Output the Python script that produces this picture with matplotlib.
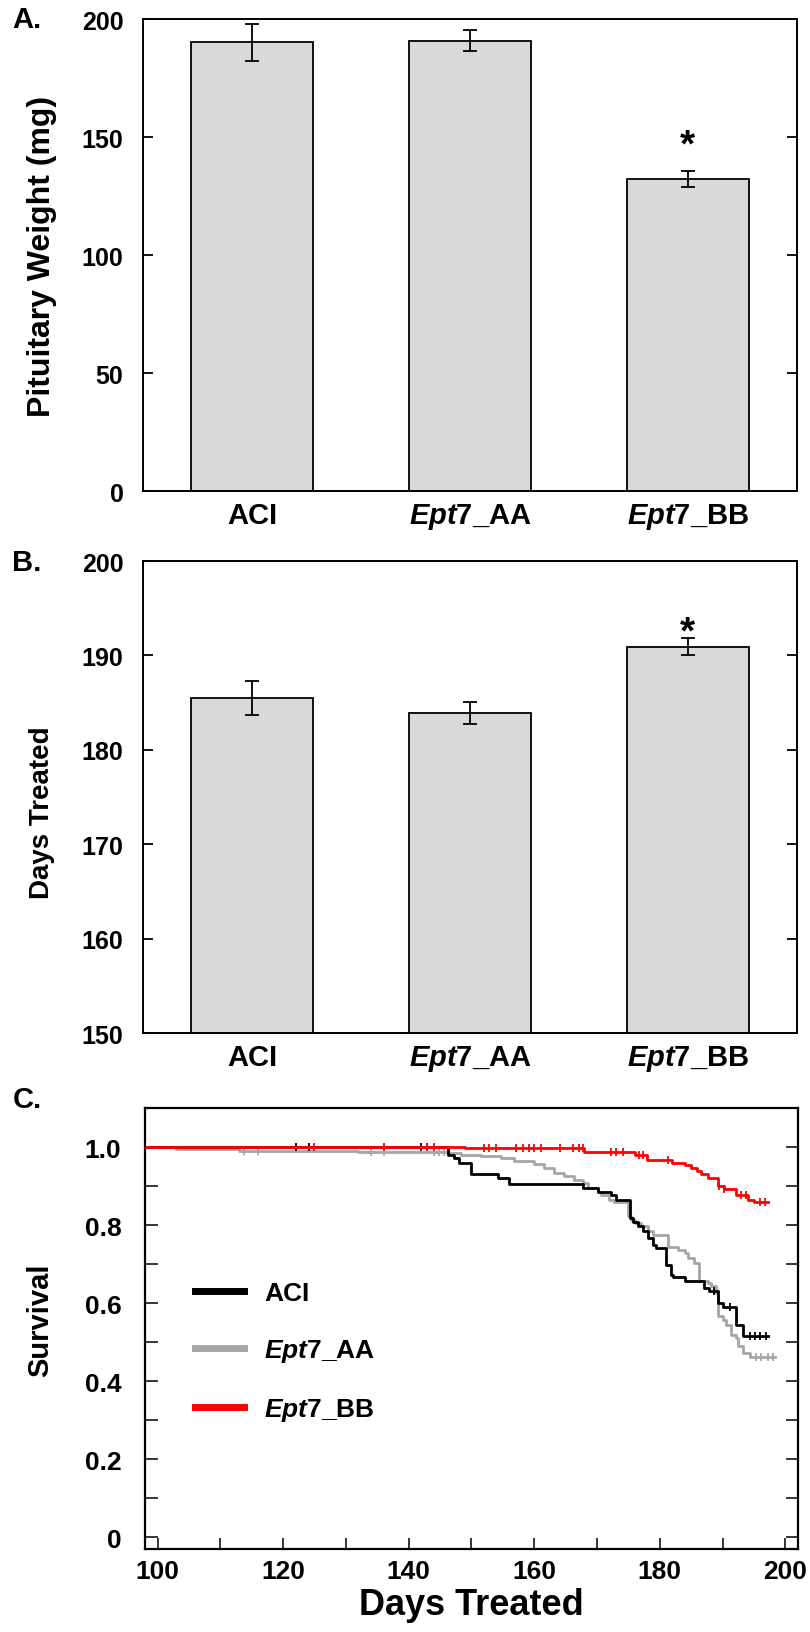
import numpy as np
import matplotlib
matplotlib.use('Agg')
import matplotlib.pyplot as plt
from matplotlib.lines import Line2D
from matplotlib.ticker import MultipleLocator, FuncFormatter

plt.rcParams['font.family'] = ['Liberation Sans', 'DejaVu Sans']
plt.rcParams['font.weight'] = 'bold'
plt.rcParams['axes.labelweight'] = 'bold'
plt.rcParams['mathtext.fontset'] = 'custom'
plt.rcParams['mathtext.it'] = 'Liberation Sans:italic:bold'
plt.rcParams['mathtext.rm'] = 'Liberation Sans:bold'

# ---- data ----
groups = ['ACI', r'$\mathit{Ept7}$_AA', r'$\mathit{Ept7}$_BB']

pit_weight = [190.1, 190.8, 132.2]
pit_err = [8.0, 4.4, 3.4]

days_mean = [185.5, 183.9, 190.9]
days_err = [1.8, 1.2, 0.9]

# Kaplan-Meier steps (time, survival after time)
aci_t = [98, 146.3, 147.3, 148.0, 150.0, 154.2, 156.0, 167.7, 170.1, 172.2, 173.0,
         175.2, 175.7, 176.5, 177.3, 178.1, 178.9, 179.4, 181.0, 181.8, 182.1, 184.0,
         187.1, 187.9, 189.3, 190.1, 192.2, 193.3, 197.3]
aci_s = [1.0, 0.98, 0.972, 0.959, 0.931, 0.921, 0.905, 0.895, 0.886, 0.878, 0.865,
         0.818, 0.809, 0.797, 0.784, 0.767, 0.749, 0.741, 0.698, 0.673, 0.668, 0.657,
         0.638, 0.630, 0.600, 0.589, 0.544, 0.515, 0.515]
aci_cens = [122.0, 124.1, 141.9, 143.0, 188.7, 191.2, 194.3, 195.2, 196.0, 197.0]

aa_t = [98, 103.0, 113.0, 132.0, 146.5, 148.3, 151.5, 154.7, 156.8, 160.0, 161.6,
        163.2, 164.8, 166.4, 167.8, 168.6, 170.2, 170.7, 171.9, 172.7, 175.0, 175.5,
        176.0, 177.0, 178.1, 178.9, 181.3, 182.9, 184.0, 184.5, 185.5, 186.3, 187.7,
        188.2, 189.0, 189.3, 190.1, 190.6, 191.4, 192.2, 192.5, 193.3, 194.3, 198.3]
aa_s = [1.0, 0.995, 0.99, 0.987, 0.985, 0.98, 0.976, 0.972, 0.963, 0.957, 0.946,
        0.933, 0.925, 0.916, 0.908, 0.895, 0.886, 0.878, 0.865, 0.859, 0.823, 0.814,
        0.805, 0.797, 0.786, 0.774, 0.745, 0.737, 0.728, 0.715, 0.703, 0.656, 0.651,
        0.643, 0.626, 0.566, 0.557, 0.544, 0.519, 0.510, 0.489, 0.472, 0.463, 0.463]
aa_cens = [113.7, 116.0, 134.0, 136.0, 144.0, 144.8, 145.6, 195.4, 196.2, 197.2, 198.0]

bb_t = [98, 149.0, 168.0, 176.0, 178.0, 182.0, 184.0, 185.0, 186.0, 186.6, 187.7,
        189.3, 190.3, 192.2, 194.0, 195.0, 197.3]
bb_s = [1.0, 0.997, 0.987, 0.98, 0.967, 0.96, 0.953, 0.946, 0.938, 0.93, 0.92,
        0.90, 0.893, 0.877, 0.865, 0.858, 0.858]
bb_cens = [124.9, 136.0, 143.0, 144.0, 152.0, 152.8, 153.9, 157.1, 158.2, 159.2, 160.0,
           161.1, 164.1, 166.2, 167.1, 167.8, 172.2, 173.0, 174.2, 176.7, 177.4, 181.3,
           189.5, 190.3, 193.0, 193.8, 195.9, 196.7]

fig = plt.figure(figsize=(8.1, 16.33), dpi=100)

bar_kw = dict(width=0.56, color='#d9d9d9', edgecolor='black', linewidth=1.3,
              error_kw=dict(elinewidth=1.3, capthick=1.3, capsize=5, ecolor='black'))


def style_bar_axes(ax):
    for sp in ax.spines.values():
        sp.set_linewidth(1.4)
    ax.tick_params(axis='y', direction='in', length=7, width=1.3, left=True, right=True,
                   labelsize=18, pad=14)
    ax.tick_params(axis='x', length=0, labelsize=21, pad=7)
    ax.set_xlim(-0.5, 2.5)


# ---- A ----
axA = fig.add_axes([0.1765, 0.6987, 0.8074, 0.2890])
x = np.arange(len(groups))
axA.bar(x, pit_weight, yerr=pit_err, **bar_kw)
axA.set_ylim(0, 200)
axA.set_yticks([0, 50, 100, 150, 200])
axA.set_xticks(x, groups)
style_bar_axes(axA)
axA.set_ylabel('Pituitary Weight (mg)', fontsize=23)
axA.yaxis.set_label_coords(-0.155, 0.5)
axA.yaxis.label.set_va('center')
axA.text(2, 146.5, '*', ha='center', va='center', fontsize=28)

# ---- B ----
axB = fig.add_axes([0.1765, 0.3668, 0.8074, 0.2890])
axB.bar(x, days_mean, yerr=days_err, **bar_kw)
axB.set_ylim(150, 200)
axB.set_yticks(np.arange(150, 201, 10))
axB.set_xticks(x, groups)
style_bar_axes(axB)
axB.set_ylabel('Days Treated', fontsize=20)
axB.yaxis.set_label_coords(-0.155, 0.47)
axB.yaxis.label.set_va('center')
axB.text(2, 192.4, '*', ha='center', va='center', fontsize=28)

# ---- C ----
axC = fig.add_axes([0.179, 0.0508, 0.806, 0.2701])
curves = [
    (aa_t, aa_s, aa_cens, '#a6a6a6', 2),
    (aci_t, aci_s, aci_cens, 'black', 3),
    (bb_t, bb_s, bb_cens, '#ff0000', 4),
]
for t, s, cens, col, z in curves:
    t = np.asarray(t)
    s = np.asarray(s)
    axC.plot(t, s, drawstyle='steps-post', color=col, lw=2.0, zorder=z)
    idx = np.searchsorted(t, cens, side='right') - 1
    axC.plot(cens, s[idx], linestyle='none', marker='|', markersize=6,
             markeredgewidth=1.3, color=col, zorder=z)

axC.set_xlim(98, 202)
axC.set_ylim(-0.03, 1.1)
axC.xaxis.set_major_locator(MultipleLocator(20))
axC.xaxis.set_minor_locator(MultipleLocator(10))
axC.yaxis.set_minor_locator(MultipleLocator(0.1))
axC.set_yticks([0, 0.2, 0.4, 0.6, 0.8, 1.0])
axC.yaxis.set_major_formatter(FuncFormatter(lambda v, p: '0' if abs(v) < 1e-9 else f'{v:.1f}'))
for sp in axC.spines.values():
    sp.set_linewidth(1.6)
axC.tick_params(which='both', direction='in', width=1.1, labelsize=19)
axC.tick_params(axis='y', which='both', left=True, right=True, length=9, pad=17)
axC.tick_params(axis='x', which='both', bottom=True, top=False, length=8, pad=7)
axC.set_ylabel('Survival', fontsize=21)
axC.yaxis.set_label_coords(-0.161, 0.52)
axC.yaxis.label.set_va('center')
axC.set_xlabel('Days Treated', fontsize=26)
axC.xaxis.set_label_coords(0.5, -0.085)

handles = [Line2D([], [], color='black', lw=5),
           Line2D([], [], color='#a6a6a6', lw=5),
           Line2D([], [], color='#ff0000', lw=5)]
axC.legend(handles, groups, loc='upper left', bbox_to_anchor=(0.077, 0.608),
           frameon=False, fontsize=19, handlelength=1.85, handletextpad=0.75,
           labelspacing=1.22, borderpad=0, borderaxespad=0)

# panel letters
fig.text(27 / 810, 1 - 20 / 1633, 'A.', fontsize=21, ha='center', va='center')
fig.text(27 / 810, 1 - 563 / 1633, 'B.', fontsize=21, ha='center', va='center')
fig.text(27 / 810, 1 - 1100 / 1633, 'C.', fontsize=21, ha='center', va='center')

fig.savefig('out.png', dpi=100)
